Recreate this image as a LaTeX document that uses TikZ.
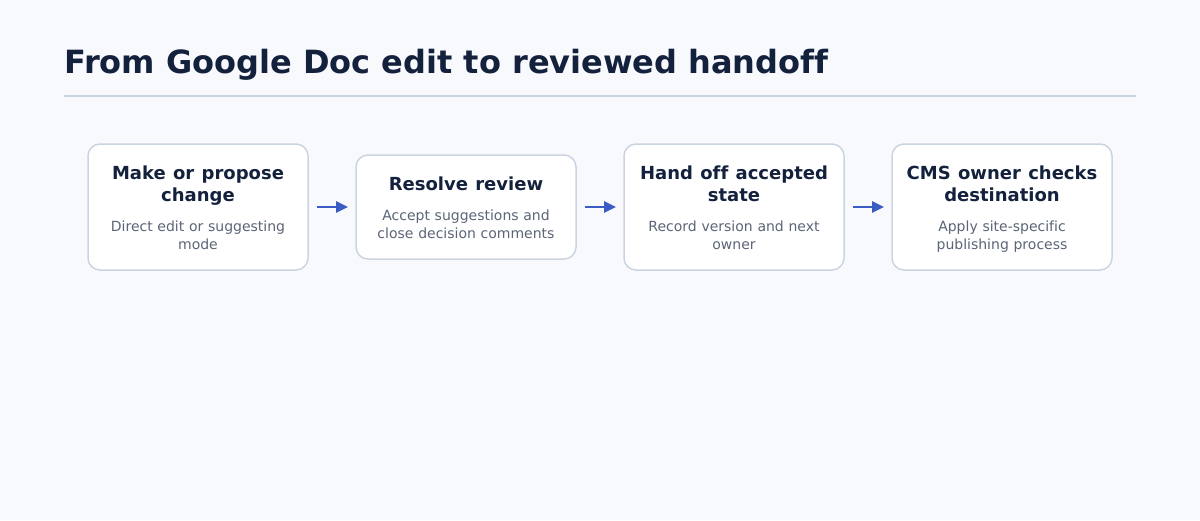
\documentclass[tikz,border=0pt]{standalone}
\usepackage{fontspec}
\setmainfont{DejaVu Sans}[Ligatures=NoCommon]
\usepackage{tikz}
\usetikzlibrary{arrows.meta,positioning}
\definecolor{pagebg}{HTML}{F7F9FC}
\definecolor{navy}{HTML}{14213D}
\definecolor{subgray}{HTML}{5B6577}
\definecolor{edgegray}{HTML}{CBD5E1}
\definecolor{flowblue}{HTML}{3B5CC4}
\newcommand{\steptext}[2]{\centering\hyphenpenalty=10000
	{\fontsize{18}{22}\selectfont\bfseries\spaceskip=1.17\fontdimen2\font\color{navy}\rule{0pt}{14pt}#1\par}\vspace{12pt}
	{\fontsize{14}{18}\selectfont\spaceskip=1.06\fontdimen2\font\color{subgray}#2\par}\kern-\prevdepth}

\begin{document}
\begin{tikzpicture}[x=1pt, y=-1pt, node distance=48pt,
	stepbox/.style={draw=edgegray, line width=1.5pt, fill=white, rounded corners=12pt, text width=196pt, minimum width=220pt, inner xsep=12pt, inner ysep=21pt, outer sep=0pt},
	flow/.style={draw=flowblue, line width=2.75pt, -{Triangle[length=12pt,width=11pt]}, shorten <=9pt, shorten >=8pt}]
	\fill[pagebg] (0,0) rectangle (1200,520);
	\node[anchor=base west, font=\fontsize{32}{38}\selectfont\bfseries, text=navy, inner sep=0pt] (title) at (64,73) {From Google Doc edit to reviewed handoff};
	\draw[edgegray, line width=1.5pt] (64,96) -- (1136,96);
	\node[stepbox, anchor=west] (make) at (88,207) {\steptext{Make or propose\\change}{Direct edit or suggesting\\mode}};
	\node[stepbox, right=of make] (resolve) {\steptext{Resolve review}{Accept suggestions and\\close decision comments}};
	\node[stepbox, right=of resolve] (handoff) {\steptext{Hand off accepted\\state}{Record version and next\\owner}};
	\node[stepbox, right=of handoff] (cms) {\steptext{CMS owner checks\\destination}{Apply site-specific\\publishing process}};
	\draw[flow] (make) -- (resolve);
	\draw[flow] (resolve) -- (handoff);
	\draw[flow] (handoff) -- (cms);
\end{tikzpicture}
\end{document}
